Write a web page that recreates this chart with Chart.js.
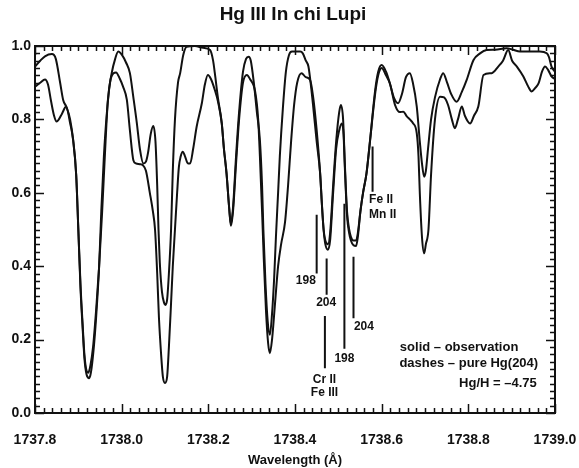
<!DOCTYPE html>
<html><head><meta charset="utf-8">
<script src="https://cdn.jsdelivr.net/npm/chart.js@4/dist/chart.umd.min.js"></script>
<style>html,body{margin:0;padding:0;background:#fff;}#wrap{width:579px;height:468px;position:relative;}</style>
</head><body><div id="wrap"><canvas id="c" width="579" height="468"></canvas></div>
<script>
// ---- data ----
const titleText = 'Hg III In chi Lupi';
const xAxisTitle = 'Wavelength (Å)';
const xTickValues = [1737.8, 1738.0, 1738.2, 1738.4, 1738.6, 1738.8, 1739.0];
const yTickValues = [0.0, 0.2, 0.4, 0.6, 0.8, 1.0];

const aWave = [1737.800,1737.812,1737.823,1737.839,1737.848,1737.858,1737.865,1737.872,1737.881,1737.888,1737.895,1737.900,1737.905,1737.910,1737.914,1737.919,1737.923,1737.928,1737.934,1737.941,1737.948,1737.955,1737.962,1737.968,1737.977,1737.985,1737.992,1738.001,1738.010,1738.019,1738.027,1738.035,1738.042,1738.050,1738.056,1738.061,1738.067,1738.073,1738.078,1738.082,1738.085,1738.088,1738.093,1738.098,1738.101,1738.105,1738.109,1738.114,1738.118,1738.123,1738.130,1738.135,1738.142,1738.150,1738.169,1738.188,1738.204,1738.211,1738.215,1738.222,1738.231,1738.236,1738.242,1738.248,1738.252,1738.257,1738.264,1738.271,1738.280,1738.287,1738.293,1738.298,1738.305,1738.312,1738.319,1738.324,1738.327,1738.332,1738.337,1738.342,1738.347,1738.352,1738.356,1738.361,1738.365,1738.372,1738.379,1738.386,1738.393,1738.412,1738.418,1738.425,1738.431,1738.437,1738.442,1738.450,1738.458,1738.462,1738.466,1738.470,1738.476,1738.481,1738.488,1738.495,1738.502,1738.506,1738.511,1738.515,1738.520,1738.525,1738.529,1738.535,1738.541,1738.545,1738.551,1738.557,1738.565,1738.573,1738.585,1738.592,1738.600,1738.610,1738.619,1738.628,1738.638,1738.647,1738.656,1738.665,1738.672,1738.681,1738.688,1738.693,1738.698,1738.702,1738.707,1738.714,1738.723,1738.735,1738.742,1738.751,1738.760,1738.773,1738.785,1738.796,1738.812,1738.827,1738.842,1738.862,1738.888,1738.903,1738.919,1738.942,1738.965,1738.981,1738.986,1738.992,1739.000];
const aFlux = [0.944,0.960,0.972,0.978,0.965,0.900,0.853,0.835,0.800,0.744,0.650,0.500,0.350,0.240,0.160,0.115,0.110,0.130,0.180,0.280,0.400,0.550,0.720,0.850,0.926,0.965,0.985,0.975,0.955,0.926,0.860,0.790,0.720,0.680,0.685,0.710,0.760,0.782,0.740,0.620,0.500,0.410,0.330,0.300,0.294,0.310,0.380,0.500,0.660,0.800,0.900,0.926,0.975,0.998,1.000,0.995,0.989,0.960,0.926,0.860,0.789,0.720,0.653,0.560,0.515,0.560,0.700,0.820,0.930,0.965,0.971,0.960,0.900,0.820,0.744,0.620,0.500,0.350,0.250,0.213,0.270,0.370,0.480,0.600,0.700,0.830,0.930,0.975,0.985,0.985,0.980,0.960,0.944,0.890,0.835,0.740,0.653,0.570,0.500,0.470,0.460,0.490,0.620,0.740,0.820,0.839,0.800,0.680,0.550,0.500,0.480,0.470,0.470,0.490,0.550,0.600,0.653,0.740,0.880,0.930,0.948,0.930,0.898,0.860,0.844,0.870,0.915,0.926,0.900,0.835,0.740,0.680,0.644,0.660,0.720,0.800,0.860,0.910,0.926,0.900,0.870,0.848,0.875,0.907,0.962,0.980,0.989,0.990,0.994,0.990,0.985,0.985,0.985,0.980,0.970,0.944,0.930];

const bWave = [1737.800,1737.812,1737.823,1737.830,1737.837,1737.844,1737.850,1737.855,1737.862,1737.872,1737.881,1737.888,1737.895,1737.900,1737.905,1737.910,1737.914,1737.919,1737.925,1737.929,1737.935,1737.941,1737.948,1737.953,1737.959,1737.966,1737.975,1737.987,1737.996,1738.003,1738.012,1738.019,1738.027,1738.033,1738.042,1738.049,1738.056,1738.065,1738.072,1738.077,1738.082,1738.086,1738.091,1738.095,1738.100,1738.105,1738.109,1738.114,1738.118,1738.123,1738.128,1738.132,1738.136,1738.141,1738.146,1738.153,1738.158,1738.165,1738.173,1738.185,1738.192,1738.199,1738.206,1738.215,1738.222,1738.231,1738.236,1738.242,1738.248,1738.252,1738.257,1738.264,1738.271,1738.280,1738.289,1738.296,1738.308,1738.315,1738.319,1738.324,1738.328,1738.333,1738.338,1738.342,1738.347,1738.354,1738.361,1738.368,1738.377,1738.384,1738.391,1738.398,1738.405,1738.415,1738.425,1738.435,1738.442,1738.450,1738.458,1738.462,1738.466,1738.470,1738.476,1738.481,1738.488,1738.495,1738.502,1738.508,1738.512,1738.515,1738.520,1738.525,1738.529,1738.535,1738.541,1738.545,1738.551,1738.557,1738.565,1738.573,1738.585,1738.592,1738.600,1738.610,1738.619,1738.631,1738.642,1738.650,1738.658,1738.665,1738.672,1738.681,1738.685,1738.688,1738.693,1738.698,1738.702,1738.708,1738.714,1738.723,1738.735,1738.744,1738.753,1738.762,1738.769,1738.776,1738.785,1738.792,1738.804,1738.813,1738.823,1738.835,1738.854,1738.869,1738.880,1738.892,1738.901,1738.912,1738.927,1738.938,1738.946,1738.954,1738.962,1738.970,1738.977,1738.984,1738.992,1739.000];
const bFlux = [0.889,0.900,0.909,0.895,0.850,0.810,0.794,0.800,0.815,0.835,0.790,0.744,0.650,0.500,0.340,0.230,0.150,0.105,0.095,0.110,0.170,0.260,0.400,0.550,0.700,0.820,0.912,0.928,0.910,0.890,0.853,0.770,0.689,0.680,0.678,0.675,0.660,0.600,0.550,0.500,0.380,0.260,0.160,0.100,0.082,0.100,0.180,0.300,0.400,0.500,0.600,0.670,0.698,0.712,0.700,0.680,0.680,0.720,0.780,0.844,0.895,0.921,0.910,0.880,0.850,0.789,0.720,0.653,0.560,0.510,0.550,0.680,0.800,0.900,0.921,0.910,0.876,0.800,0.700,0.550,0.420,0.280,0.190,0.163,0.200,0.300,0.400,0.460,0.520,0.620,0.740,0.840,0.900,0.926,0.915,0.907,0.860,0.771,0.653,0.570,0.500,0.460,0.445,0.470,0.600,0.720,0.770,0.789,0.760,0.670,0.540,0.490,0.470,0.457,0.455,0.480,0.550,0.600,0.653,0.740,0.870,0.920,0.940,0.920,0.898,0.839,0.820,0.821,0.808,0.800,0.790,0.762,0.700,0.600,0.480,0.435,0.460,0.500,0.650,0.800,0.862,0.860,0.840,0.800,0.776,0.800,0.835,0.810,0.789,0.810,0.835,0.921,0.926,0.944,0.960,0.989,0.960,0.944,0.917,0.890,0.876,0.885,0.898,0.930,0.944,0.935,0.917,0.910];

// line identification markers (wavelength, top flux, bottom flux)
const markerWave   = [1738.450, 1738.473, 1738.469, 1738.514, 1738.535, 1738.579];
const markerTop    = [0.540, 0.421, 0.264, 0.570, 0.426, 0.726];
const markerBottom = [0.380, 0.322, 0.122, 0.175, 0.258, 0.603];

// marker labels
const labelText  = ['198', '204', 'Cr II', 'Fe III', '198', '204', 'Fe II', 'Mn II'];
const labelWave  = [1738.448, 1738.472, 1738.468, 1738.468, 1738.514, 1738.536, 1738.571, 1738.571];
const labelFlux  = [0.360, 0.300, 0.090, 0.054, 0.148, 0.234, 0.580, 0.540];
const labelAlign = ['right', 'center', 'center', 'center', 'center', 'left', 'left', 'left'];

// note text
const noteText  = ['solid \u2013 observation', 'dashes \u2013 pure Hg(204)', 'Hg/H = \u20134.75'];
const noteWave  = [1738.642, 1738.641, 1738.958];
const noteFlux  = [0.179, 0.134, 0.081];
const noteAlign = ['left', 'left', 'right'];

// ---- chart ----
const FONT = '"Liberation Sans", Arial, Helvetica, sans-serif';
const toPts = (xs, ys) => xs.map((x, i) => ({x: x, y: ys[i]}));

const datasets = [
  {data: toPts(aWave, aFlux), borderColor: '#111', borderWidth: 2, pointRadius: 0, cubicInterpolationMode: 'monotone', fill: false},
  {data: toPts(bWave, bFlux), borderColor: '#111', borderWidth: 2, pointRadius: 0, cubicInterpolationMode: 'monotone', fill: false}
];
markerWave.forEach((w, i) => {
  datasets.push({data: [{x: w, y: markerTop[i]}, {x: w, y: markerBottom[i]}], borderColor: '#111', borderWidth: 2, pointRadius: 0, fill: false});
});

const decor = {
  id: 'decor',
  afterDraw(chart) {
    const ctx = chart.ctx, xs = chart.scales.x, ys = chart.scales.y;
    const ca = chart.chartArea;
    ctx.save();
    ctx.strokeStyle = '#111'; ctx.lineWidth = 2;
    ctx.strokeRect(ca.left, ca.top, ca.right - ca.left, ca.bottom - ca.top);
    ctx.lineWidth = 1.5;
    for (let i = 0; i <= 60; i++) {
      const v = xs.min + i * 0.02;
      const px = Math.round(xs.getPixelForValue(v)) + 0.5;
      const len = (i % 10 === 0) ? 9 : 5;
      ctx.beginPath();
      ctx.moveTo(px, ca.bottom); ctx.lineTo(px, ca.bottom - len);
      ctx.moveTo(px, ca.top); ctx.lineTo(px, ca.top + len);
      ctx.stroke();
    }
    for (let i = 0; i <= 50; i++) {
      const v = i * 0.02;
      const py = Math.round(ys.getPixelForValue(v)) + 0.5;
      const len = (i % 10 === 0) ? 9 : 5;
      ctx.beginPath();
      ctx.moveTo(ca.left, py); ctx.lineTo(ca.left + len, py);
      ctx.moveTo(ca.right, py); ctx.lineTo(ca.right - len, py);
      ctx.stroke();
    }
    ctx.fillStyle = '#111';
    ctx.textBaseline = 'middle';
    ctx.textAlign = 'center';
    ctx.font = 'bold 19px ' + FONT;
    ctx.fillText(titleText, 293, 15);
    ctx.font = 'bold 12px ' + FONT;
    labelText.forEach((t, i) => {
      ctx.textAlign = labelAlign[i];
      ctx.fillText(t, xs.getPixelForValue(labelWave[i]), ys.getPixelForValue(labelFlux[i]));
    });
    ctx.font = 'bold 13px ' + FONT;
    noteText.forEach((t, i) => {
      ctx.textAlign = noteAlign[i];
      ctx.fillText(t, xs.getPixelForValue(noteWave[i]), ys.getPixelForValue(noteFlux[i]));
    });
    ctx.restore();
  }
};

new Chart(document.getElementById('c'), {
  type: 'line',
  data: {datasets: datasets},
  options: {
    responsive: false, animation: false, devicePixelRatio: 1,
    layout: {padding: {top: 46, right: 24, left: 0, bottom: 0}},
    plugins: {legend: {display: false}, tooltip: {enabled: false}, title: {display: false}},
    scales: {
      x: {
        type: 'linear', min: 1737.8, max: 1739.0,
        afterBuildTicks: s => { s.ticks = xTickValues.map(v => ({value: v})); },
        afterFit: s => { s.height = 55; s.paddingLeft = 0; s.paddingRight = 0; },
        grid: {display: false, drawTicks: false},
        border: {display: false},
        ticks: {color: '#111', padding: 19, maxRotation: 0, autoSkip: false, font: {family: FONT, size: 14, weight: 'bold'}, callback: v => Number(v).toFixed(1)},
        title: {display: true, text: xAxisTitle, color: '#111', padding: {top: 0, bottom: 0}, font: {family: FONT, size: 13, weight: 'bold'}}
      },
      y: {
        type: 'linear', min: 0, max: 1,
        afterBuildTicks: s => { s.ticks = yTickValues.map(v => ({value: v})); },
        afterFit: s => { s.width = 35; s.paddingTop = 0; s.paddingBottom = 0; },
        grid: {display: false, drawTicks: false},
        border: {display: false},
        ticks: {color: '#111', padding: 4, font: {family: FONT, size: 14, weight: 'bold'}, callback: v => Number(v).toFixed(1)}
      }
    }
  },
  plugins: [decor]
});
</script>
</body></html>
